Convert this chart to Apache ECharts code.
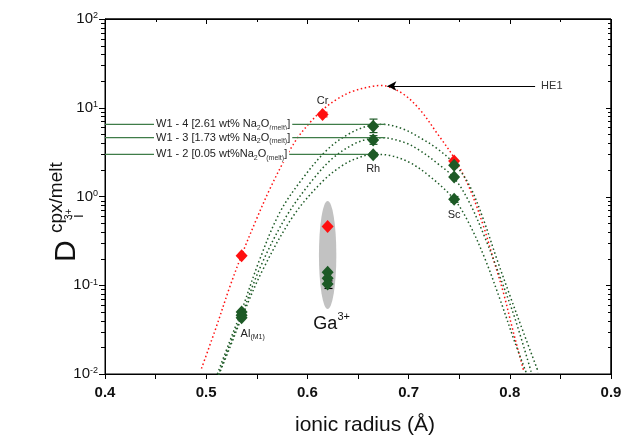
<!DOCTYPE html>
<html>
<head>
<meta charset="utf-8">
<script src="https://cdn.jsdelivr.net/npm/echarts@6/dist/echarts.min.js"></script>
<style>
  html, body { margin: 0; padding: 0; background: #fff; }
  #chart { width: 633px; height: 436px; }
</style>
</head>
<body>
<div id="chart"></div>
<script>
const FONT = '"Liberation Sans", Arial, sans-serif';
const RED = '#ff1010';
const GREEN = '#1d5a26';
const GREEN_LINE = '#3f7c48';

// axis ranges and tick values
const xMin = 0.4, xMax = 0.9;
const yMin = 0.01, yMax = 100;
const xMajorTicks = [0.5, 0.6, 0.7, 0.8];
const xMinorTicks = [0.45, 0.55, 0.65, 0.75, 0.85];
const yMajorTicks = [0.1, 1, 10];
const decades = [0.01, 0.1, 1, 10];
const minorSteps = [2, 3, 4, 5, 6, 7, 8, 9];

// measured partition coefficients (ionic radius in A, D)
const ionsHE1 = ['Al', 'Cr', 'Ga', 'Sc'];
const radiiHE1 = [0.535, 0.615, 0.62, 0.745];
const dHE1 = [0.215, 8.4, 0.46, 2.52];

const ionsW1 = ['Al', 'Ga', 'Rh', 'Sc'];
const radiiW1 = [0.535, 0.62, 0.665, 0.745];
const dW1_4 = [0.050, 0.14, 6.2, 2.25];
const dW1_3 = [0.046, 0.12, 4.33, 1.66];
const dW1_2 = [0.043, 0.103, 2.95, 0.93];

// error bars: [radius, low, high]
const errHE1 = [[0.615, 7.9, 8.9]];
const errW1 = [[0.665, 5.25, 7.45], [0.665, 3.87, 4.85], [0.665, 2.82, 3.12], [0.745, 0.86, 1.0]];
const errGa = [[0.62, 0.092, 0.112]];

// grey band around the Ga3+ values: [radius, low, high]
const gaBand = [[0.62, 0.054, 0.89]];

// lattice strain fits
const curveHE1 = [[0.4953, 0.0115], [0.510, 0.034], [0.5232, 0.095], [0.5348, 0.215], [0.5497, 0.556],
  [0.5628, 1.21], [0.576, 2.41], [0.5892, 4.4], [0.6024, 6.78], [0.6155, 9.57], [0.6288, 12.4],
  [0.6452, 15.4], [0.665, 17.5], [0.672, 17.8], [0.6782, 17.5], [0.6947, 14.3], [0.7112, 9.5],
  [0.7277, 5.24], [0.7458, 2.63], [0.7606, 1.21], [0.7738, 0.47], [0.7837, 0.198], [0.7936, 0.083],
  [0.8035, 0.0296], [0.8141, 0.0105]];
const curveW1_4 = [[0.511, 0.0100], [0.523, 0.023], [0.535, 0.052], [0.5525, 0.19], [0.5727, 0.66],
  [0.5957, 1.62], [0.62, 3.4], [0.64, 5.0], [0.66, 6.25], [0.675, 6.5], [0.6947, 5.75], [0.7112, 4.6],
  [0.7277, 3.5], [0.7458, 2.3], [0.7606, 1.3], [0.7738, 0.556], [0.787, 0.2], [0.8002, 0.076],
  [0.8134, 0.0296], [0.8282, 0.0105]];
const curveW1_3 = [[0.512, 0.0097], [0.523, 0.021], [0.535, 0.046], [0.5545, 0.17], [0.5793, 0.6],
  [0.6056, 1.56], [0.625, 2.7], [0.645, 3.85], [0.66, 4.45], [0.673, 4.6], [0.695, 4.1], [0.71, 3.36],
  [0.73, 2.29], [0.745, 1.62], [0.76, 0.86], [0.775, 0.354], [0.79, 0.127], [0.805, 0.0426],
  [0.8215, 0.0102]];
const curveW1_2 = [[0.5125, 0.0098], [0.5235, 0.02], [0.535, 0.043], [0.556, 0.15], [0.5859, 0.6],
  [0.6155, 1.5], [0.635, 2.25], [0.65, 2.72], [0.665, 2.99], [0.68, 2.92], [0.70, 2.45], [0.72, 1.72],
  [0.745, 0.93], [0.76, 0.49], [0.775, 0.205], [0.79, 0.071], [0.805, 0.0228], [0.817, 0.0098]];

// D0 of each W1 fit, where its line stops, and its caption
const d0W1 = [6.49, 4.6, 2.99];
const d0End = [0.677, 0.677, 0.668];
const d0Names = [
  'W1 - 4 [2.61 wt% Na{s|2}O{s|(melt)}]',
  'W1 - 3 [1.73 wt% Na{s|2}O{s|(melt)}]',
  'W1 - 2 [0.05 wt%Na{s|2}O{s|(melt)}]'
];

// HE1 arrow (from, to)
const he1Arrow = [[0.825, 17.6], [0.679, 17.6]];

const yMinorTicks = [];
decades.forEach(d => minorSteps.forEach(m => yMinorTicks.push(d * m)));

const txt = { color: '#222', fontFamily: FONT };

const pointLabels = {
  Cr: { show: true, position: 'top', distance: 2, formatter: 'Cr', fontSize: 11, ...txt },
  Rh: { show: true, position: 'bottom', distance: 2, formatter: 'Rh', fontSize: 11, ...txt },
  Sc: { show: true, position: 'bottom', distance: 4, formatter: 'Sc', fontSize: 11, ...txt },
  Al: {
    show: true, position: 'bottom', distance: 4, align: 'left', offset: [-1, 0],
    formatter: '{a|Al}{s|(M1)}', ...txt,
    rich: {
      a: { fontSize: 11, lineHeight: 12, verticalAlign: 'top', fontFamily: FONT, color: '#222' },
      s: { fontSize: 7, lineHeight: 8, verticalAlign: 'bottom', fontFamily: FONT, color: '#222', padding: [6, 0, 0, 0] }
    }
  },
  Ga: {
    show: true, position: 'bottom', distance: 21, offset: [4, 0],
    formatter: '{g|Ga}{s|3+}', ...txt,
    rich: {
      g: { fontSize: 18, lineHeight: 21, verticalAlign: 'bottom', fontFamily: FONT, color: '#111' },
      s: { fontSize: 11, lineHeight: 12, verticalAlign: 'top', fontFamily: FONT, color: '#111' }
    }
  }
};

function points(radii, vals, ions, labelled) {
  return radii.map((r, i) => {
    const item = { value: [r, vals[i]] };
    if (labelled && labelled.indexOf(ions[i]) >= 0) item.label = pointLabels[ions[i]];
    return item;
  });
}

function scatter(name, data, color, z) {
  return {
    name, type: 'scatter', data, symbol: 'diamond', symbolSize: [12, 13],
    itemStyle: { color, opacity: 1 }, z: z || 6, label: { show: false }
  };
}

function curve(name, data, color) {
  return {
    name, type: 'line', data, smooth: 0.35, showSymbol: false, symbol: 'none', silent: true,
    lineStyle: { color, width: 1.5, type: [1.5, 2.6] }, z: 3
  };
}

function errorBars(data, color) {
  return {
    type: 'custom', data, z: 5, silent: true,
    renderItem: (params, api) => {
      const lo = api.coord([api.value(0), api.value(1)]);
      const hi = api.coord([api.value(0), api.value(2)]);
      const x = Math.round(lo[0]) + 0.5;
      return {
        type: 'group', children: [
          { type: 'line', shape: { x1: x, y1: lo[1], x2: x, y2: hi[1] }, style: { stroke: color, lineWidth: 1.2 } },
          { type: 'line', shape: { x1: x - 4, y1: lo[1], x2: x + 4, y2: lo[1] }, style: { stroke: color, lineWidth: 1.2 } },
          { type: 'line', shape: { x1: x - 4, y1: hi[1], x2: x + 4, y2: hi[1] }, style: { stroke: color, lineWidth: 1.2 } }
        ]
      };
    }
  };
}

// short ticks drawn inward from the top and right edges (and log minor ticks outside the left edge)
function frameTicks() {
  const items = [];
  xMajorTicks.forEach(v => items.push([v, yMax, 0, 5]));
  xMinorTicks.forEach(v => items.push([v, yMax, 0, 3]));
  yMajorTicks.forEach(v => items.push([xMax, v, 1, 5]));
  yMinorTicks.forEach(v => { items.push([xMax, v, 1, 3]); items.push([xMin, v, 2, 4]); });
  return {
    type: 'custom', data: items, z: 20, silent: true, clip: false,
    renderItem: (params, api) => {
      const p = api.coord([api.value(0), api.value(1)]);
      const kind = api.value(2), len = api.value(3);
      const x = Math.round(p[0]), y = Math.round(p[1]);
      let shape;
      if (kind === 0) shape = { x1: x + 0.5, y1: y, x2: x + 0.5, y2: y + len };
      else if (kind === 1) shape = { x1: x - len, y1: y + 0.5, x2: x, y2: y + 0.5 };
      else shape = { x1: x - len, y1: y + 0.5, x2: x, y2: y + 0.5 };
      return { type: 'line', shape, style: { stroke: '#000', lineWidth: 1 } };
    }
  };
}

const d0Series = d0W1.map((d, i) => ({
  type: 'line', silent: true, z: 4,
  symbol: 'circle', symbolSize: 0, showSymbol: true,
  lineStyle: { color: GREEN_LINE, width: 1.3 },
  data: [
    {
      value: [xMin, d],
      label: {
        show: true, position: 'right', distance: 49, formatter: d0Names[i],
        backgroundColor: '#fff', padding: [1, 2], color: '#222', fontFamily: FONT, fontSize: 11,
        lineHeight: 14,
        rich: { s: { fontSize: 7, lineHeight: 8, verticalAlign: 'bottom', color: '#333', fontFamily: FONT, padding: [3, 0, 0, 0] } }
      }
    },
    [d0End[i], d]
  ]
}));

const chart = echarts.init(document.getElementById('chart'), null, { renderer: 'canvas' });

chart.setOption({
  animation: false,
  backgroundColor: '#fff',
  grid: {
    left: 105, right: 22, top: 19, bottom: 62, containLabel: false, outerBoundsMode: 'none',
    show: true, borderColor: '#000', borderWidth: 1
  },
  xAxis: {
    type: 'value', min: xMin, max: xMax, interval: 0.1, position: 'bottom',
    axisLine: { show: true, onZero: false, lineStyle: { color: '#000', width: 1 } },
    axisTick: { show: true, inside: false, length: 5, lineStyle: { color: '#000' } },
    minorTick: { show: true, splitNumber: 2, length: 5, lineStyle: { color: '#000' } },
    splitLine: { show: false },
    axisLabel: { fontSize: 15, fontWeight: 'bold', color: '#111', fontFamily: FONT, margin: 11,
      formatter: v => v.toFixed(1) },
    name: 'ionic radius (Å)', nameLocation: 'middle', nameGap: 43,
    nameTextStyle: { fontSize: 21, lineHeight: 16, color: '#111', fontFamily: FONT, padding: [0, 0, 0, 14] }
  },
  yAxis: {
    type: 'log', logBase: 10, min: yMin, max: yMax, position: 'left',
    axisLine: { show: true, onZero: false, lineStyle: { color: '#000', width: 1 } },
    axisTick: { show: true, inside: false, length: 6, lineStyle: { color: '#000' } },
    splitLine: { show: false },
    axisLabel: {
      margin: 7, color: '#111',
      formatter: v => '{b|10}{e|' + Math.round(Math.log10(v)) + '}',
      rich: {
        b: { fontSize: 15, lineHeight: 15, verticalAlign: 'bottom', fontFamily: FONT, color: '#111' },
        e: { fontSize: 9, lineHeight: 8, verticalAlign: 'top', fontFamily: FONT, color: '#111' }
      }
    }
  },
  graphic: [
    {
      type: 'group', x: 82, y: 262, rotation: Math.PI / 2, silent: true,
      children: [
        { type: 'text', x: 0, y: 0, style: { text: 'D', fontSize: 30, fontFamily: FONT, fill: '#111', verticalAlign: 'bottom' } },
        { type: 'text', x: 29, y: -16, style: { text: 'cpx/melt', fontSize: 19, fontFamily: FONT, fill: '#111', verticalAlign: 'bottom' } },
        { type: 'text', x: 44, y: 5, style: { text: 'i', fontSize: 17, fontFamily: FONT, fill: '#111', verticalAlign: 'bottom' } },
        { type: 'text', x: 42, y: -8, style: { text: '3+', fontSize: 10, fontFamily: FONT, fill: '#111', verticalAlign: 'bottom' } }
      ]
    }
  ],
  series: [
    {
      type: 'custom', data: gaBand, z: 1, silent: true,
      renderItem: (params, api) => {
        const lo = api.coord([api.value(0), api.value(1)]);
        const hi = api.coord([api.value(0), api.value(2)]);
        return {
          type: 'circle', x: lo[0], y: (lo[1] + hi[1]) / 2, scaleX: 8.7, scaleY: (lo[1] - hi[1]) / 2,
          shape: { cx: 0, cy: 0, r: 1 }, style: { fill: '#c2c2c2' }
        };
      }
    },
    ...d0Series,
    {
      ...curve('HE1 fit', curveHE1, RED),
      markLine: {
        silent: true, symbol: ['none', 'arrow'], symbolSize: [7, 9], animation: false,
        lineStyle: { color: '#000', type: 'solid', width: 1 },
        label: { show: true, position: 'start', formatter: 'HE1', fontSize: 11, color: '#333', fontFamily: FONT, distance: 6 },
        data: [[{ coord: he1Arrow[0] }, { coord: he1Arrow[1] }]]
      }
    },
    {
      // top and right edges of the frame, along the axis bounds
      type: 'line', silent: true, z: 20, clip: false, symbol: 'none', showSymbol: false,
      data: [[xMin, yMax], [xMax, yMax], [xMax, yMin]],
      lineStyle: { color: '#000', width: 1, type: 'solid' },
      markLine: {
        silent: true, symbol: ['none', 'none'], animation: false, label: { show: false },
        lineStyle: { color: '#000', type: 'solid', width: 1 },
        data: [{ yAxis: yMax }, { xAxis: xMax }]
      }
    },
    curve('W1-4 fit', curveW1_4, GREEN),
    curve('W1-3 fit', curveW1_3, GREEN),
    curve('W1-2 fit', curveW1_2, GREEN),
    errorBars(errHE1, RED),
    errorBars(errW1, GREEN),
    errorBars(errGa, '#000'),
    scatter('HE1', points(radiiHE1, dHE1, ionsHE1, ['Cr']), RED, 6),
    scatter('W1-4', points(radiiW1, dW1_4, ionsW1, []), GREEN, 7),
    scatter('W1-3', points(radiiW1, dW1_3, ionsW1, []), GREEN, 7),
    scatter('W1-2', points(radiiW1, dW1_2, ionsW1, ['Al', 'Ga', 'Rh', 'Sc']), GREEN, 7),
    frameTicks()
  ]
});
</script>
</body>
</html>
